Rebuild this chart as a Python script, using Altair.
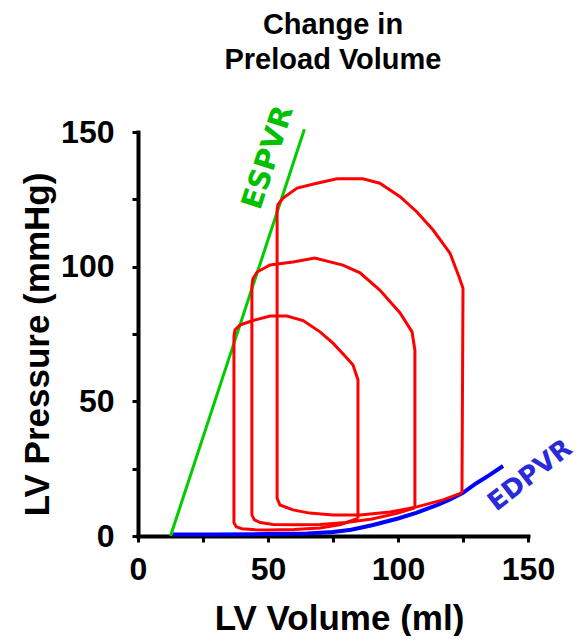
import altair as alt
import pandas as pd

# ---- data ----
espvr_v = [12.5, 64.0]
espvr_p = [0.0, 151.0]

edpvr_v = [13.5, 30, 50, 65, 75, 82, 90, 100, 107, 115, 120, 125, 130, 135, 140.4]
edpvr_p = [0.6, 0.6, 0.7, 0.9, 1.5, 2.3, 4.0, 6.5, 8.6, 11.5, 13.6, 16.0, 19.5, 22.5, 26.0]

small_v = [84.6, 84.6, 82.7, 80.4, 75, 70, 63.5, 57.3, 50.8, 44.2, 39.2, 37.3, 36.9, 36.9, 37.8, 40, 45, 50, 60, 70, 78, 84.6]
small_p = [6.5, 58, 63.5, 66, 71.6, 75.8, 80, 81.7, 81.7, 80, 78.3, 76.5, 74, 5, 3.4, 2.7, 2.3, 2.2, 2.4, 3.0, 4.3, 6.5]

medium_v = [106.5, 106.5, 105.4, 100.8, 93, 85.4, 78.8, 68, 59.6, 50.8, 45.8, 44.2, 43.8, 43.8, 44.8, 47, 52, 60, 70, 80, 90, 100, 106.5]
medium_p = [10.5, 69, 75.8, 82.8, 91.3, 97.7, 100.6, 103.2, 101.7, 100.6, 98, 95.5, 93, 7.8, 6.0, 5.0, 4.3, 4.2, 4.3, 5.0, 6.3, 8.5, 10.5]

large_v = [124.6, 125, 123.5, 120, 113.5, 107.3, 100.8, 93, 86.5, 76.5, 68.8, 61.2, 55.8, 53.8, 53.5, 53.5, 54.6, 59.6, 66, 75, 85.4, 97, 107.3, 117.3, 124.6]
large_p = [16, 92, 96.2, 105, 113.6, 120.3, 126, 131, 132.6, 132.6, 131, 129.2, 125.5, 123, 121, 14, 11.5, 9.7, 8.5, 7.8, 7.8, 8.9, 10.8, 13.4, 16]

x_ticks = [0, 25, 50, 75, 100, 125, 150]
y_ticks = [0, 12.5, 25, 37.5, 50, 62.5, 75, 87.5, 100, 112.5, 125, 137.5, 150]

labels_text = ["ESPVR", "EDPVR"]
labels_v = [50.0, 150.8]
labels_p = [140.5, 22.5]

# ---- tables ----
espvr = pd.DataFrame({"V": espvr_v, "P": espvr_p, "i": range(len(espvr_v))})
edpvr = pd.DataFrame({"V": edpvr_v, "P": edpvr_p, "i": range(len(edpvr_v))})
loops = []
for name, vs, ps in [("small", small_v, small_p), ("medium", medium_v, medium_p), ("large", large_v, large_p)]:
    loops.append(pd.DataFrame({"V": vs, "P": ps, "i": range(len(vs)), "loop": name}))
loops = pd.concat(loops, ignore_index=True)

xs = alt.Scale(domain=[0, 150], nice=False)
ys = alt.Scale(domain=[0, 150], nice=False)

x_axis = alt.Axis(values=x_ticks, labelExpr="datum.value % 50 == 0 ? datum.label : ''",
                  title="LV Volume (ml)", titleX=201, titleY=93, titleAlign="center",
                  titleBaseline="alphabetic", labelPadding=12, labelFlush=False)
y_axis = alt.Axis(values=y_ticks, labelExpr="datum.value % 50 == 0 ? datum.label : ''",
                  title="LV Pressure (mmHg)", titleX=-90, titleY=212, titleAngle=270,
                  titleAlign="center", titleBaseline="alphabetic", labelPadding=18,
                  labelFlush=False)

base_x = alt.X("V:Q", scale=xs, axis=x_axis)
base_y = alt.Y("P:Q", scale=ys, axis=y_axis)

green = alt.Chart(espvr).mark_line(color="#00cc00", strokeWidth=3, clip=False).encode(
    x=base_x, y=base_y, order="i:Q")
blue = alt.Chart(edpvr).mark_line(color="#0000ff", strokeWidth=4, clip=False).encode(
    x="V:Q", y="P:Q", order="i:Q")
red = alt.Chart(loops).mark_line(color="#ff0000", strokeWidth=3).encode(
    x="V:Q", y="P:Q", detail="loop:N", order="i:Q")

t1 = alt.Chart(pd.DataFrame({"V": [labels_v[0]], "P": [labels_p[0]], "t": [labels_text[0]]})).mark_text(
    angle=288, color="#00c000", font="DejaVu Sans", fontWeight="bold", fontSize=29,
    align="center", baseline="middle").encode(x="V:Q", y="P:Q", text="t:N")
t2 = alt.Chart(pd.DataFrame({"V": [labels_v[1]], "P": [labels_p[1]], "t": [labels_text[1]]})).mark_text(
    angle=322, color="#2a2ad8", font="DejaVu Sans", fontWeight="bold", fontSize=26,
    align="center", baseline="middle").encode(x="V:Q", y="P:Q", text="t:N")

chart = alt.layer(green, blue, red, t1, t2).properties(
    width=390, height=404,
    title=alt.TitleParams(["Change in", "Preload Volume"], anchor="middle", frame="group",
                          font="Liberation Sans", fontSize=29, fontWeight="bold", color="black",
                          lineHeight=35, offset=28),
    autosize=alt.AutoSizeParams(type="none"),
    padding={"left": 130, "top": 124, "right": 52, "bottom": 100},
).configure_view(stroke=None).configure_axis(
    grid=False, domainColor="black", domainWidth=4, tickColor="black", tickWidth=3,
    tickSize=6, labelFont="Liberation Sans", labelFontSize=32, labelFontWeight="bold",
    labelColor="black", titleFont="Liberation Sans", titleFontSize=35, titleFontWeight="bold",
    titleColor="black", domainCap="square"
)

chart.save("out.html", embed_options={"renderer": "svg", "actions": False})
